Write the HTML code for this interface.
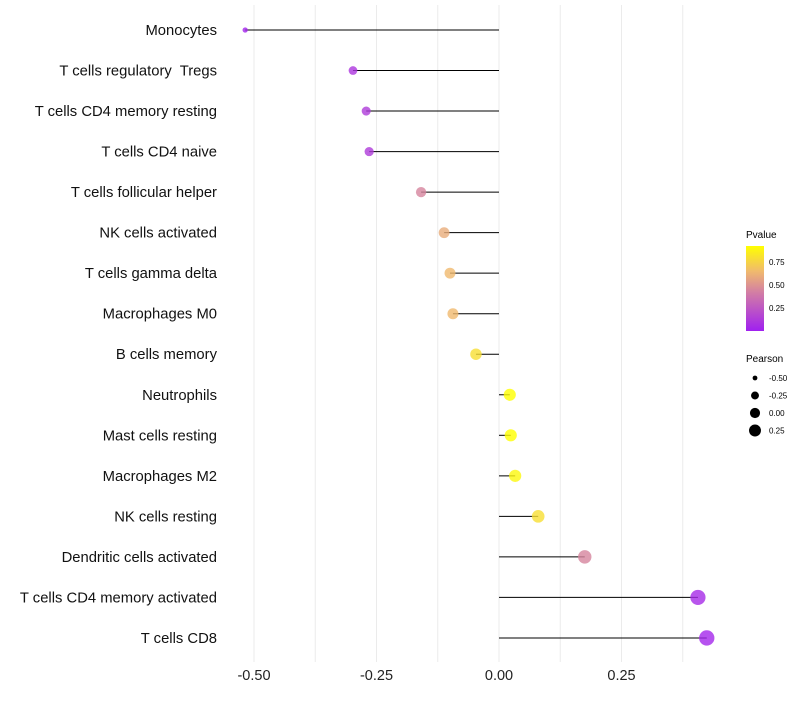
<!DOCTYPE html>
<html><head><meta charset="utf-8"><style>
body{margin:0;background:#fff;font-family:"Liberation Sans",sans-serif;}
text{white-space:pre;}
</style></head><body>
<svg id="chart" width="800" height="700" xmlns="http://www.w3.org/2000/svg">
<g id="grid"></g>
<g id="marks"></g>
<g id="ylab"></g>
<g id="xlab"></g>
<g id="legend">
 <defs><linearGradient id="pg" x1="0" y1="1" x2="0" y2="0">
 <stop offset="0" stop-color="rgb(160,32,240)"/><stop offset="0.45" stop-color="rgb(210,125,165)"/><stop offset="0.7" stop-color="rgb(240,185,110)"/><stop offset="1" stop-color="rgb(255,255,0)"/></linearGradient></defs>
 <text x="746" y="238" font-size="10">Pvalue</text>
 <rect x="746" y="246" width="18" height="85" fill="url(#pg)"/>
 <text x="769" y="265" font-size="8">0.75</text>
 <text x="769" y="288" font-size="8">0.50</text>
 <text x="769" y="311" font-size="8">0.25</text>
 <text x="746" y="362" font-size="10">Pearson</text>
</g>
</svg>
<script>
const categories=["Monocytes","T cells regulatory  Tregs","T cells CD4 memory resting","T cells CD4 naive","T cells follicular helper","NK cells activated","T cells gamma delta","Macrophages M0","B cells memory","Neutrophils","Mast cells resting","Macrophages M2","NK cells resting","Dendritic cells activated","T cells CD4 memory activated","T cells CD8"];
const pearson=[-0.518,-0.298,-0.271,-0.265,-0.159,-0.112,-0.1,-0.094,-0.047,0.022,0.024,0.033,0.08,0.175,0.406,0.424];
const pvalue=[0.02,0.1,0.12,0.12,0.45,0.6,0.65,0.65,0.8,0.95,0.95,0.9,0.8,0.45,0.05,0.03];
const xTicks=[-0.5,-0.25,0,0.25];
const xTickLabels=["-0.50","-0.25","0.00","0.25"];
const sizeLegend=[-0.5,-0.25,0,0.25];
const sizeLegendLabels=["-0.50","-0.25","0.00","0.25"];
const NS="http://www.w3.org/2000/svg";
const x=v=>499+v*490;
const y=i=>30+i*40.53;
const r=v=>Math.sqrt(Math.max(4,8+55*(v+0.5)));
const stops=[[0,160,32,240],[0.45,210,125,165],[0.7,240,185,110],[1,255,255,0]];
function col(p){const t=Math.min(1,Math.max(0,p/0.93));let k=0;while(k<stops.length-2&&t>stops[k+1][0])k++;
const a=stops[k],b=stops[k+1],f=(t-a[0])/(b[0]-a[0]);const c=[1,2,3].map(j=>Math.round(a[j]+(b[j]-a[j])*f));return `rgb(${c[0]},${c[1]},${c[2]})`;}
function mk(tag,at,parent){const e=document.createElementNS(NS,tag);for(const k in at)e.setAttribute(k,at[k]);document.getElementById(parent).appendChild(e);return e;}
for(let v=-0.5;v<=0.4;v+=0.125){const g=mk('line',{x1:x(v),x2:x(v),y1:5,y2:662,stroke:'#ebebeb','stroke-width':1},'grid');

}
xTicks.forEach((v,i)=>{const t=mk('text',{x:x(v),y:680,'font-size':14.5,'text-anchor':'middle',fill:'#222'},'xlab');t.textContent=xTickLabels[i];

});
categories.forEach((c,i)=>{
const t=mk('text',{x:217,y:y(i)+5,'font-size':14.8,'text-anchor':'end',fill:'#111'},'ylab');t.textContent=c;


const l=mk('line',{x1:x(0),x2:x(pearson[i]),y1:y(i),y2:y(i),stroke:'#000','stroke-width':1},'marks');


const p=mk('circle',{cx:x(pearson[i]),cy:y(i),r:r(pearson[i]),fill:col(pvalue[i]),'fill-opacity':0.8},'marks');

});
sizeLegend.forEach((v,i)=>{const yy=378+i*17.5;
const c=mk('circle',{cx:755,cy:yy,r:r(v)*0.85,fill:'#000'},'legend');


const t=mk('text',{x:769,y:yy+3,'font-size':8},'legend');t.textContent=sizeLegendLabels[i];

});
</script>
</body></html>
